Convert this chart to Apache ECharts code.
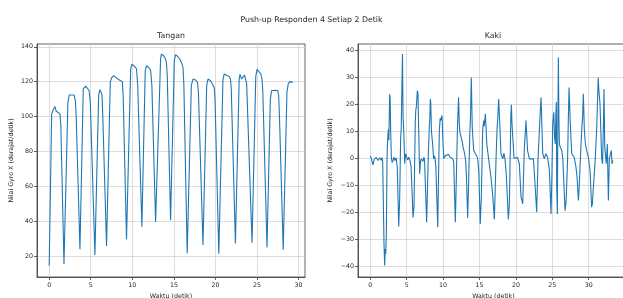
<!DOCTYPE html>
<html>
<head>
<meta charset="utf-8">
<script src="https://cdn.jsdelivr.net/npm/echarts@6/dist/echarts.min.js"></script>
<style>
html,body{margin:0;padding:0;background:#fff;}
#chart{width:623px;height:298px;}
</style>
</head>
<body>
<div id="chart"></div>
<script>
// ---- Data ----
var suptitleText = 'Push-up Responden 4 Setiap 2 Detik';
var subplotTitles = ['Tangan', 'Kaki'];
var xAxisLabel = 'Waktu (detik)';
var yAxisLabel = 'Nilai Gyro X (derajat/detik)';

var tanganXTicks = [0, 5, 10, 15, 20, 25, 30];
var tanganYTicks = [20, 40, 60, 80, 100, 120, 140];
var kakiXTicks = [0, 5, 10, 15, 20, 25, 30];
var kakiYTicks = [-40, -30, -20, -10, 0, 10, 20, 30, 40];

var tanganTime = [0,0.3,0.5,0.7,0.85,1.0,1.3,1.4,1.78,
  2.25,2.4,3.0,3.15,3.25,3.7,
  4.1,4.4,4.6,4.8,4.95,5.5,
  5.95,6.1,6.25,6.35,6.45,6.9,
  7.35,7.55,7.8,8.1,8.5,8.8,8.9,9.3,
  9.8,9.95,10.2,10.5,10.65,11.15,
  11.55,11.7,12.0,12.2,12.35,12.8,12.95,
  13.4,13.5,13.75,13.95,14.1,14.2,14.6,
  15.05,15.2,15.45,15.7,15.95,16.1,16.2,16.6,
  17.1,17.3,17.6,17.85,17.95,18.5,
  18.95,19.1,19.4,19.65,19.85,19.95,20.4,
  20.9,21.05,21.4,21.65,21.8,21.9,22.4,
  22.85,22.95,23.15,23.3,23.5,23.65,23.75,24.4,
  24.85,25.0,25.2,25.45,25.6,25.7,26.2,
  26.6,26.75,27.1,27.5,27.6,27.7,28.15,
  28.6,28.75,28.9,29.1,29.3];
var tanganGyro = [14.3,101.5,104,105.7,103,102.5,101.5,95,15.4,
  108,112.3,112.3,109,100,23.8,
  115.8,117.4,116.5,114.9,108,20.6,
  112,115.4,114.5,112.6,100,25.7,
  120,122.5,123.4,122,120.8,120,112,29.5,
  127,130.1,129,127.5,118,36.8,
  126,129.1,128,126.5,118,39.4,39.3,
  133,135.8,135,133.5,131,124,40.5,
  132,135.4,134.5,133,130.5,128,118,21.5,
  118,121.5,121,119.5,114,26.2,
  118,121.5,120.5,118.5,116.5,110,21.2,
  121,124.4,123.5,123,121.5,116,27.2,
  121,124.2,121.5,122,123.7,123,119,27.5,
  123,127,126,124.5,121.5,114,24.9,
  110,114.8,115,114.9,112,100,23.6,
  114,118.7,120,119.8,119.6];

var kakiTime = [0,0.15,0.35,0.55,0.8,1.05,1.3,1.5,1.6,1.7,
  1.88,1.97,2.06,2.12,2.2,2.3,2.34,2.43,2.5,2.55,2.66,2.72,2.8,2.89,3.0,3.12,3.25,3.4,3.55,3.7,
  3.9,4.03,4.17,4.25,4.3,4.35,4.42,4.5,4.6,4.72,4.85,5.0,5.15,5.27,5.45,5.6,
  5.87,6.0,6.1,6.18,6.25,6.32,6.46,6.55,6.65,6.78,6.9,7.0,7.15,7.25,7.35,7.45,
  7.56,7.74,7.85,7.95,8.05,8.11,8.18,8.24,8.3,8.4,8.56,8.7,8.8,8.9,9.0,
  9.26,9.35,9.48,9.6,9.67,9.85,9.99,10.1,10.3,10.5,10.75,10.95,11.1,11.3,11.45,
  11.68,11.8,11.95,12.05,12.13,12.22,12.3,12.4,12.6,12.75,12.96,13.1,13.2,
  13.37,13.5,13.65,13.75,13.87,14.0,14.2,14.43,14.6,14.75,14.9,
  15.1,15.25,15.43,15.57,15.65,15.8,16.0,16.25,16.4,16.58,16.8,16.9,
  17.04,17.27,17.4,17.5,17.63,17.8,17.95,18.2,18.35,18.5,18.7,
  18.96,19.1,19.24,19.3,19.38,19.45,19.55,19.74,20.0,20.2,20.47,
  20.7,20.93,21.16,21.3,21.38,21.6,21.85,22.1,22.4,
  22.62,22.7,22.85,23.04,23.22,23.35,23.45,23.68,23.9,24.1,24.35,24.59,
  24.82,24.95,25.05,25.2,25.3,25.4,25.5,25.55,25.6,25.69,25.75,25.83,25.9,25.97,26.1,26.3,26.45,
  26.75,26.9,27.1,27.2,27.3,27.45,27.66,28.0,28.25,28.4,
  28.58,28.7,28.94,29.08,29.15,29.26,29.4,29.55,29.72,29.95,30.18,
  30.4,30.5,30.6,30.73,30.9,31.1,31.3,31.4,31.55,31.78,31.9,32.0,32.1,32.2,32.4,32.55,32.7,32.83,33.0,33.1,33.2,33.3];
var kakiGyro = [1,0,-2.3,-0.3,0.5,-0.7,0.3,-0.7,0.5,-1,
  -31.6,-39.6,-33.5,-35.3,-28,0,4.2,9.2,11,6.8,23.9,22.5,10,0.5,-1.5,-0.7,0.5,-0.7,0.3,-3,
  -25.2,-15.5,7.9,11,20.2,20.9,38.8,15.3,10,-1.9,1.8,0.5,-0.5,0.5,-0.7,-3,
  -21.8,-18,0,14.1,18,19,25.2,24,10,-5.6,-1,-0.1,0.5,-1,0.5,-0.5,
  -9.3,-23.6,-11.8,0,8,12,15,22.1,20.9,10,5.4,-0.1,1,0,-3,
  -25.4,-10,10.4,15,14.1,16,5.4,0,1.1,0.5,1.5,0.5,1,0,-1,
  -23.6,-9.3,9.2,18,22.7,12.9,9.8,10,6.7,4.2,1.8,-1,-6.3,
  -22,-9.3,8,15,30.1,11.6,3,1.8,1,0,-5,
  -24.2,-14.3,10.4,14.1,12,16.6,5.4,-0.1,0.5,-7,-13.2,-17,
  -22.6,0,10.4,15,22.1,11.6,1.8,-0.1,2,-0.1,-7,
  -22.6,-16.9,5.4,15.5,20,13.5,14.1,0,-0.1,0.5,-1.9,
  -14.3,-16.8,4.2,10,14.1,3,-0.1,0.5,-0.1,
  -9.3,-13,-19.9,0,10.4,18,22.7,1.8,-0.1,1.8,0.5,-4.1,
  -20.5,-5,12.8,17.2,8,5.4,17.8,21,-10,-20.5,10,37.5,15,5.4,4.2,3,-0.5,
  -19.3,-15.5,0,15,26.4,14.1,1.8,0.5,-3.2,-7,
  -15.5,-10,5.4,12.8,15,24,10.4,5.4,3,0.5,-4.4,
  -18,-16.8,-12,-7,0,11.6,30.1,25,20.2,0,-2,10,25.8,4.2,-1.9,5.4,-15.5,0,-0.5,3,-2,-0.7];

function zip(a, b) {
  var out = [];
  for (var i = 0; i < Math.min(a.length, b.length); i++) out.push([a[i], b[i]]);
  return out;
}
function minusFmt(v) { return String(v).replace('-', '\u2212'); }

var FONT = 'DejaVu Sans';
var lineColor = '#1f77b4';
var gridColor = '#d4d4d4';
var spineColor = '#3a3a3a';
var textColor = '#262626';

function xAxisCfg(idx, min, max, ticks) {
  return {
    type: 'value', gridIndex: idx, min: min, max: max,
    name: xAxisLabel, nameLocation: 'middle', nameGap: 15,
    nameTextStyle: {fontFamily: FONT, fontSize: 6.3, color: textColor},
    axisLine: {show: true, onZero: false, lineStyle: {color: spineColor, width: 0.8}},
    axisTick: {show: true, length: 3, customValues: ticks, lineStyle: {color: spineColor, width: 0.8}},
    axisLabel: {customValues: ticks, margin: 5, fontFamily: FONT, fontSize: 6.3, color: textColor, formatter: minusFmt},
    splitLine: {show: true, lineStyle: {color: gridColor, width: 0.8}}
  };
}
function yAxisCfg(idx, min, max, ticks, gap) {
  return {
    type: 'value', gridIndex: idx, min: min, max: max,
    name: yAxisLabel, nameLocation: 'middle', nameGap: gap, nameRotate: 90,
    nameTextStyle: {fontFamily: FONT, fontSize: 6.3, color: textColor},
    axisLine: {show: true, onZero: false, lineStyle: {color: spineColor, width: 0.8}},
    axisTick: {show: true, length: 3, customValues: ticks, lineStyle: {color: spineColor, width: 0.8}},
    axisLabel: {customValues: ticks, margin: 4, fontFamily: FONT, fontSize: 6.3, color: textColor, formatter: minusFmt},
    splitLine: {show: true, lineStyle: {color: gridColor, width: 0.8}}
  };
}

var chart = echarts.init(document.getElementById('chart'), null, {renderer: 'canvas'});
chart.setOption({
  animation: false,
  backgroundColor: '#ffffff',
  title: [{
    text: suptitleText, left: 'center', top: 11,
    textStyle: {fontFamily: FONT, fontSize: 7.8, fontWeight: 'normal', color: textColor}
  }],
  graphic: [
    {type: 'text', x: 171, y: 36, style: {text: subplotTitles[0], fontFamily: FONT, fontSize: 7.8, fill: textColor, textAlign: 'center', textVerticalAlign: 'middle'}},
    {type: 'text', x: 493, y: 36, style: {text: subplotTitles[1], fontFamily: FONT, fontSize: 7.8, fill: textColor, textAlign: 'center', textVerticalAlign: 'middle'}}
  ],
  grid: [
    {left: 37, top: 44, width: 268, height: 233, show: true, borderColor: spineColor, borderWidth: 0.8, containLabel: false, outerBoundsMode: 'none'},
    {left: 358, top: 44, width: 271, height: 233, show: true, borderColor: spineColor, borderWidth: 0.8, containLabel: false, outerBoundsMode: 'none'}
  ],
  xAxis: [
    xAxisCfg(0, -1.465, 30.77, tanganXTicks),
    xAxisCfg(1, -1.69, 35.53, kakiXTicks)
  ],
  yAxis: [
    yAxisCfg(0, 7.9, 141.6, tanganYTicks, 23),
    yAxisCfg(1, -43.9, 42.5, kakiYTicks, 25)
  ],
  series: [
    {type: 'line', xAxisIndex: 0, yAxisIndex: 0, data: zip(tanganTime, tanganGyro), showSymbol: false, lineStyle: {color: lineColor, width: 1.1}, itemStyle: {color: lineColor}},
    {type: 'line', xAxisIndex: 1, yAxisIndex: 1, data: zip(kakiTime, kakiGyro), showSymbol: false, lineStyle: {color: lineColor, width: 1.1}, itemStyle: {color: lineColor}}
  ]
});
</script>
</body>
</html>
